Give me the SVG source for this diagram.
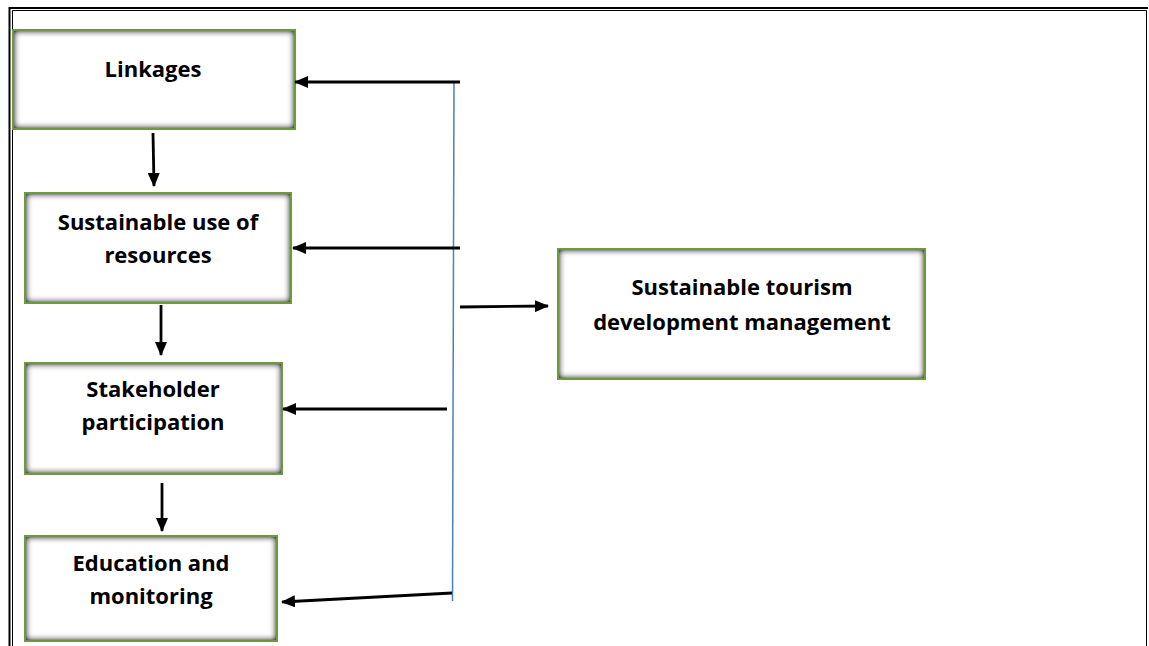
<svg xmlns="http://www.w3.org/2000/svg" width="1149" height="646" viewBox="0 0 1149 646">
  <style>
    .box-fill { fill: #ffffff; filter: url(#innerShadow); }
    .box-edge { fill: none; stroke: #6a9a3a; stroke-width: 2; }
    .label { font-family: "Open Sans", "Liberation Sans", sans-serif; font-weight: 700; font-size: 22px; fill: #000000; text-anchor: middle; }
    .arrow { stroke: #000000; stroke-width: 2.8; fill: none; marker-end: url(#head); }
    .frame { stroke: #000000; fill: none; }
  </style>
  <defs>
    <marker id="head" viewBox="0 0 14 12" refX="13" refY="6" markerWidth="14" markerHeight="12" markerUnits="userSpaceOnUse" orient="auto">
      <path d="M0,0 L14,6 L0,12 Z" fill="#000000"/>
    </marker>
    <!-- soft grey glow along the inside edge of each box -->
    <filter id="innerShadow" x="-15%" y="-20%" width="130%" height="140%" color-interpolation-filters="sRGB">
      <feFlood flood-color="#303030" result="ink"/>
      <feComposite in="ink" in2="SourceAlpha" operator="out" result="outside"/>
      <feGaussianBlur in="outside" stdDeviation="3.5"/>
      <feComponentTransfer>
        <feFuncA type="linear" slope="1.5" intercept="0"/>
      </feComponentTransfer>
      <feComposite in2="SourceAlpha" operator="in" result="shadow"/>
      <feMerge>
        <feMergeNode in="SourceGraphic"/>
        <feMergeNode in="shadow"/>
      </feMerge>
    </filter>
  </defs>

  <rect width="1149" height="646" fill="#ffffff"/>

  <!-- page frame -->
  <g id="frame">
    <path class="frame" d="M9.5,646 V8 H1148" stroke-width="2"/>
    <path class="frame" d="M12.5,646 V10.5 H1146.5 V646" stroke-width="1" stroke="#555555"/>
  </g>

  <g id="node-linkages">
    <rect class="box-fill" x="13" y="30" width="282" height="99"/>
    <rect class="box-edge" x="13" y="30" width="282" height="99"/>
    <text class="label" x="153" y="77">Linkages</text>
  </g>

  <g id="node-resources">
    <rect class="box-fill" x="25" y="193" width="266" height="110"/>
    <rect class="box-edge" x="25" y="193" width="266" height="110"/>
    <text class="label" x="158" y="230">Sustainable use of</text>
    <text class="label" x="158" y="263">resources</text>
  </g>

  <g id="node-stakeholder">
    <rect class="box-fill" x="25" y="363" width="257" height="111"/>
    <rect class="box-edge" x="25" y="363" width="257" height="111"/>
    <text class="label" x="153" y="397">Stakeholder</text>
    <text class="label" x="153" y="430">participation</text>
  </g>

  <g id="node-education">
    <rect class="box-fill" x="25" y="536" width="252" height="105"/>
    <rect class="box-edge" x="25" y="536" width="252" height="105"/>
    <text class="label" x="151" y="571">Education and</text>
    <text class="label" x="151" y="604">monitoring</text>
  </g>

  <g id="node-management">
    <rect class="box-fill" x="558" y="249" width="367" height="130"/>
    <rect class="box-edge" x="558" y="249" width="367" height="130"/>
    <text class="label" x="742" y="295">Sustainable tourism</text>
    <text class="label" x="742" y="330">development management</text>
  </g>

  <g id="connectors">
    <!-- shared spine -->
    <line x1="454" y1="81" x2="452.5" y2="601" stroke="#4f7fb5" stroke-width="1.5"/>
    <line x1="460" y1="82" x2="295" y2="82" class="arrow"/>
    <line x1="460" y1="248" x2="293" y2="248" class="arrow"/>
    <line x1="460" y1="307" x2="548" y2="306" class="arrow"/>
    <line x1="447" y1="409" x2="283" y2="409" class="arrow"/>
    <line x1="452" y1="593" x2="282" y2="602" class="arrow"/>
    <!-- downward chain -->
    <line x1="153" y1="133" x2="154" y2="186" class="arrow"/>
    <line x1="161" y1="305" x2="161" y2="355" class="arrow"/>
    <line x1="162" y1="483" x2="162" y2="531" class="arrow"/>
  </g>
</svg>
